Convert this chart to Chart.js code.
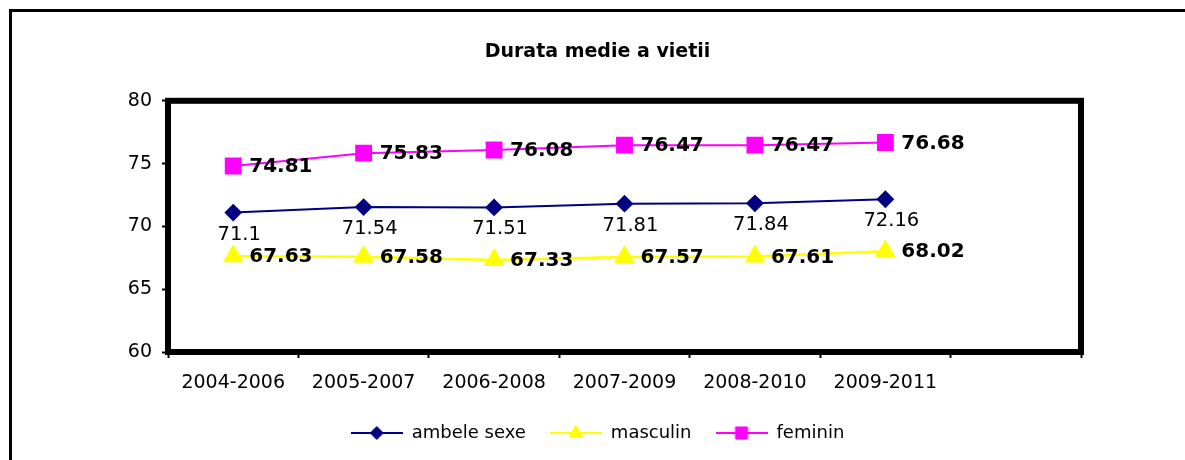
<!DOCTYPE html>
<html>
<head>
<meta charset="utf-8">
<script src="https://cdn.jsdelivr.net/npm/chart.js@4"></script>
<style>
  html, body { margin: 0; padding: 0; background: #fff; overflow: hidden; }
  #wrap { position: relative; width: 1185px; height: 460px; }
  #frame { position: absolute; left: 9px; top: 9px; right: -10px; bottom: -10px;
           border-left: 3px solid #000; border-top: 3px solid #000; }
  canvas { position: absolute; left: 0; top: 0; }
</style>
</head>
<body>
<div id="wrap">
  <div id="frame"></div>
  <canvas id="chart" width="1185" height="460"></canvas>
</div>
<script>
// date: durata medie a vietii (ani)
const periods = ['2004-2006', '2005-2007', '2006-2008', '2007-2009', '2008-2010', '2009-2011', ''];
const ambeleSexe = [71.1, 71.54, 71.51, 71.81, 71.84, 72.16];
const masculin = [67.63, 67.58, 67.33, 67.57, 67.61, 68.02];
const feminin = [74.81, 75.83, 76.08, 76.47, 76.47, 76.68];
const yMin = 60, yMax = 80, yStep = 5;

const FONT = '"DejaVu Sans", sans-serif';
Chart.defaults.font.family = FONT;
Chart.defaults.color = '#000';

// mic desen pentru legenda: linie + marker
function legendIcon(color, style, radius) {
    const c = document.createElement('canvas');
    c.width = 52;
    c.height = 18;
    const ctx = c.getContext('2d');
    ctx.strokeStyle = color;
    ctx.lineWidth = 2;
    ctx.beginPath();
    ctx.moveTo(0, 9);
    ctx.lineTo(52, 9);
    ctx.stroke();
    ctx.fillStyle = color;
    ctx.strokeStyle = color;
    ctx.lineWidth = 1;
    Chart.helpers.drawPoint(ctx, {pointStyle: style, radius: radius, rotation: 0, borderWidth: 1}, 26, 9);
    return c;
}

// etichetele cu valori
const valueLabels = {
    id: 'valueLabels',
    afterDatasetsDraw(chart) {
        const ctx = chart.ctx;
        chart.data.datasets.forEach((ds, i) => {
            const meta = chart.getDatasetMeta(i);
            meta.data.forEach((pt, j) => {
                const v = ds.data[j];
                if (v == null) return;
                ctx.save();
                ctx.fillStyle = '#000';
                ctx.textBaseline = 'middle';
                if (ds.labelPos === 'below') {
                    ctx.font = '19.5px ' + FONT;
                    ctx.textAlign = 'center';
                    ctx.fillText(String(v), pt.x + 6, pt.y + 22);
                } else {
                    ctx.font = 'bold 20px ' + FONT;
                    ctx.textAlign = 'left';
                    ctx.fillText(String(v), pt.x + 16, pt.y + 1);
                }
                ctx.restore();
            });
        });
    }
};

// chenarul gros al zonei de desen
const plotFrame = {
    id: 'plotFrame',
    beforeDatasetsDraw(chart) {
        const {ctx, chartArea: a} = chart;
        ctx.save();
        ctx.strokeStyle = '#000';
        ctx.lineWidth = 6;
        ctx.strokeRect(a.left, a.top, a.right - a.left, a.bottom - a.top);
        ctx.restore();
    }
};

const icons = [
    legendIcon('#000080', 'rectRot', 6.5),
    legendIcon('#FFFF00', 'triangle', 8),
    legendIcon('#FF00FF', 'rect', 8.5)
];

new Chart(document.getElementById('chart'), {
    type: 'line',
    data: {
        labels: periods,
        datasets: [{
            label: 'ambele sexe',
            data: ambeleSexe,
            borderColor: '#000080',
            backgroundColor: '#000080',
            borderWidth: 2,
            pointStyle: 'rectRot',
            pointRadius: 7.5,
            labelPos: 'below'
        }, {
            label: 'masculin',
            data: masculin,
            borderColor: '#FFFF00',
            backgroundColor: '#FFFF00',
            borderWidth: 2.5,
            pointStyle: 'triangle',
            pointRadius: 9.5,
            labelPos: 'right'
        }, {
            label: 'feminin',
            data: feminin,
            borderColor: '#FF00FF',
            backgroundColor: '#FF00FF',
            borderWidth: 2,
            pointStyle: 'rect',
            pointRadius: 10.5,
            labelPos: 'right'
        }]
    },
    options: {
        responsive: false,
        animation: false,
        events: [],
        layout: {padding: {left: 10, right: 0, top: 0, bottom: 8}},
        plugins: {
            title: {
                display: true,
                text: 'Durata medie a vietii',
                color: '#000',
                font: {size: 19, weight: 'bold'},
                padding: {top: 41, bottom: 37}
            },
            legend: {
                position: 'bottom',
                labels: {
                    color: '#000',
                    font: {size: 18},
                    usePointStyle: true,
                    pointStyleWidth: 52,
                    padding: 24,
                    generateLabels(chart) {
                        const items = Chart.defaults.plugins.legend.labels.generateLabels(chart);
                        items.forEach((it, i) => { it.pointStyle = icons[i]; });
                        return items;
                    }
                }
            },
            tooltip: {enabled: false}
        },
        scales: {
            x: {
                offset: true,
                grid: {drawOnChartArea: false, offset: true, tickLength: 6, tickWidth: 2, tickColor: '#000'},
                border: {display: false},
                ticks: {font: {size: 19}, padding: 14, maxRotation: 0, autoSkip: false},
                afterFit(scale) { scale.height = 48; }
            },
            y: {
                min: yMin,
                max: yMax,
                grid: {drawOnChartArea: false, tickLength: 6, tickWidth: 2, tickColor: '#000'},
                border: {display: false},
                ticks: {stepSize: yStep, font: {size: 19}, padding: 10},
                afterFit(scale) { scale.width = 158; }
            },
            yRight: {
                position: 'right',
                min: yMin,
                max: yMax,
                grid: {display: false},
                border: {display: false},
                ticks: {display: false},
                afterFit(scale) { scale.width = 104; }
            }
        }
    },
    plugins: [plotFrame, valueLabels]
});
</script>
</body>
</html>
